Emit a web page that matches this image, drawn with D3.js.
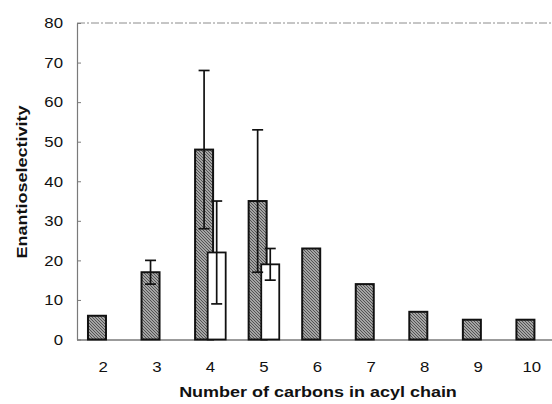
<!DOCTYPE html>
<html>
<head>
<meta charset="utf-8">
<script src="https://cdn.jsdelivr.net/npm/d3@7"></script>
<style>
	body { margin: 0; background: #fff; }
	svg { display: block; font-family: "Liberation Sans", Arial, sans-serif; }
</style>
</head>
<body>
<div id="chart"></div>
<script>
// carbons in the acyl chain
let categories	= ["2", "3", "4", "5", "6", "7", "8", "9", "10"];
let series		= ["hatched", "open"];

// enantioselectivity, hatched series (all chain lengths)
let hatchedValues	= [6, 17, 48, 35, 23, 14, 7, 5, 5];
let hatchedErrors	= [null, 3, 20, 18, null, null, null, null, null];

// open series (only 4 and 5)
let openValues	= [null, null, 22, 19, null, null, null, null, null];
let openErrors	= [null, null, 13, 4, null, null, null, null, null];

let yTicks		= [0, 10, 20, 30, 40, 50, 60, 70, 80];

let xTitle		= "Number of carbons in acyl chain";
let yTitle		= "Enantioselectivity";

let canvasWidth		= 552;
let canvasHeight	= 404;
let stretch			= 1.2;	// scanned text is wider than Arial
let tickStretch		= 1.12;

let x	= d3.scaleBand().domain(categories).range([76.5, 558.5]).padding(0);
let xs	= d3.scalePoint().domain(series).range([-6.3, 6.3]);
let y	= d3.scaleLinear().domain([0, 80]).range([339.5, 23]);
let barWidth = 18;

let svg = d3.select("#chart").append("svg")
	.attr("width", canvasWidth)
	.attr("height", canvasHeight);

let defs = svg.append("defs");
let pattern = defs.append("pattern")
	.attr("id", "hatch")
	.attr("patternUnits", "userSpaceOnUse")
	.attr("width", 3)
	.attr("height", 3);
pattern.append("rect").attr("width", 3).attr("height", 3).attr("fill", "#a4a4a4");
pattern.append("path")
	.attr("d", "M-1,-1 L4,4 M-1,2 L1,4 M2,-1 L4,1")
	.attr("stroke", "#4a4a4a")
	.attr("stroke-width", 0.9);

// top frame line
svg.append("line")
	.attr("x1", 77).attr("x2", canvasWidth)
	.attr("y1", y(80)).attr("y2", y(80))
	.attr("stroke", "#8c8c8c")
	.attr("stroke-dasharray", "8,2,2,2")
	.attr("stroke-width", 1);

// y axis
let yAxis = svg.append("g")
	.attr("transform", "translate(77,0)")
	.call(d3.axisLeft(y).tickValues(yTicks).tickSizeInner(-4).tickSizeOuter(0).tickPadding(14));
yAxis.select(".domain").attr("stroke", "#7a7a7a").attr("stroke-width", 1.2);
yAxis.selectAll(".tick line").attr("stroke", "#7a7a7a");
yAxis.selectAll(".tick text")
	.attr("font-family", "'Liberation Sans', Arial, sans-serif")
	.attr("font-size", 15)
	.attr("fill", "#111")
	.attr("x", -14 / tickStretch)
	.attr("transform", "scale(" + tickStretch + ",1)");

// x axis
let xAxis = svg.append("g")
	.attr("transform", "translate(0," + y(0) + ")")
	.call(d3.axisBottom(x).tickSize(0).tickPadding(22));
xAxis.select(".domain").attr("stroke", "#7a7a7a").attr("stroke-width", 1.5);
xAxis.selectAll(".tick text")
	.attr("font-family", "'Liberation Sans', Arial, sans-serif")
	.attr("font-size", 15)
	.attr("fill", "#111")
	.attr("transform", "scale(" + tickStretch + ",1)");

let hatched = categories.map((c, i) => ({ cat: c, s: "hatched", v: hatchedValues[i], e: hatchedErrors[i] }));
let open	= categories.map((c, i) => ({ cat: c, s: "open", v: openValues[i], e: openErrors[i] }))
	.filter((o) => o.v !== null);

let cx = (o) => x(o.cat) + x.bandwidth() / 2 + xs(o.s);

svg.append("g").attr("id", "bars-hatched")
	.selectAll("rect")
	.data(hatched)
	.enter().append("rect")
		.attr("x", (o) => cx(o) - barWidth / 2)
		.attr("y", (o) => y(o.v))
		.attr("width", barWidth)
		.attr("height", (o) => y(0) - y(o.v))
		.attr("fill", "url(#hatch)")
		.attr("stroke", "#111")
		.attr("stroke-width", 2);

svg.append("g").attr("id", "bars-open")
	.selectAll("rect")
	.data(open)
	.enter().append("rect")
		.attr("x", (o) => cx(o) - barWidth / 2)
		.attr("y", (o) => y(o.v))
		.attr("width", barWidth)
		.attr("height", (o) => y(0) - y(o.v))
		.attr("fill", "#fff")
		.attr("stroke", "#111")
		.attr("stroke-width", 1.8);

// error bars
let errData = hatched.concat(open).filter((o) => o.e !== null);
let errs = svg.append("g").attr("id", "errors")
	.selectAll("g")
	.data(errData)
	.enter().append("g")
		.attr("stroke", "#111")
		.attr("stroke-width", 1.7);
errs.append("line")
	.attr("x1", cx).attr("x2", cx)
	.attr("y1", (o) => y(o.v + o.e))
	.attr("y2", (o) => y(o.v - o.e));
errs.append("line")
	.attr("x1", (o) => cx(o) - 5.5).attr("x2", (o) => cx(o) + 5.5)
	.attr("y1", (o) => y(o.v + o.e)).attr("y2", (o) => y(o.v + o.e));
errs.append("line")
	.attr("x1", (o) => cx(o) - 5.5).attr("x2", (o) => cx(o) + 5.5)
	.attr("y1", (o) => y(o.v - o.e)).attr("y2", (o) => y(o.v - o.e));

// titles
svg.append("text")
	.attr("transform", "translate(318,397) scale(" + stretch + ",1)")
	.attr("text-anchor", "middle")
	.attr("font-size", 15)
	.attr("font-weight", "bold")
	.attr("fill", "#111")
	.text(xTitle);

svg.append("text")
	.attr("transform", "translate(27,182) rotate(-90) scale(" + stretch + ",1)")
	.attr("text-anchor", "middle")
	.attr("font-size", 15)
	.attr("font-weight", "bold")
	.attr("fill", "#111")
	.text(yTitle);
</script>
</body>
</html>
